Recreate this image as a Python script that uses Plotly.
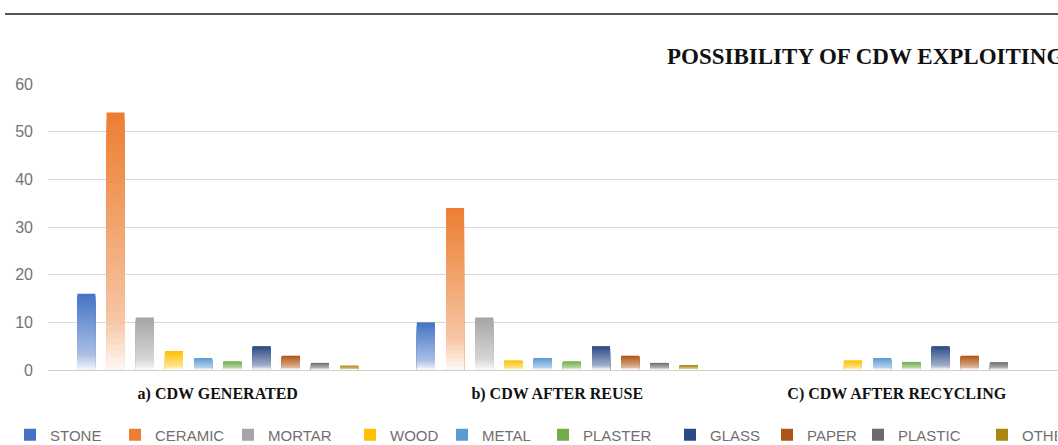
import plotly.graph_objects as go

# ---- data ---------------------------------------------------------------
groups = ["a) CDW GENERATED", "b) CDW AFTER REUSE", "C) CDW AFTER RECYCLING"]
materials = ["STONE", "CERAMIC", "MORTAR", "WOOD", "METAL",
             "PLASTER", "GLASS", "PAPER", "PLASTIC", "OTHER"]

stone = [16, 10, 0]
ceramic = [54, 34, 0]
mortar = [11, 11, 0]
wood = [4, 2, 2]
metal = [2.5, 2.5, 2.5]
plaster = [1.8, 1.8, 1.7]
glass = [5, 5, 5]
paper = [3, 3, 3]
plastic = [1.5, 1.5, 1.6]
other = [0.9, 1.0, 0]

y_ticks = [0, 10, 20, 30, 40, 50, 60]

series = [stone, ceramic, mortar, wood, metal, plaster, glass, paper, plastic, other]

# ---- styling ------------------------------------------------------------
colors = ["#4472C4", "#ED7D31", "#A5A5A5", "#FFC000", "#5B9BD5",
          "#70AD47", "#2B4A84", "#AE5418", "#6A6A6A", "#A98610"]
legend_item_widths = [60, 68, 77, 47, 56, 82, 52, 46, 79, 30]

N_SLICES = 40
SERIF = "Liberation Serif, Times New Roman, serif"
SANS = "Liberation Sans, Arial, sans-serif"


def tint(hex_color, t):
    """Blend a colour towards white by fraction t."""
    h = hex_color.lstrip("#")
    r, g, b = (int(h[i:i + 2], 16) for i in (0, 2, 4))
    r, g, b = (round(c + (255 - c) * t) for c in (r, g, b))
    return f"rgb({r},{g},{b})"


def fade(f):
    """Whitening amount at relative height f (0 = bar foot, 1 = bar top)."""
    if f >= 0.2:
        return 0.55 * (1 - f) / 0.8
    return 0.55 + 0.4 * (0.2 - f) / 0.2


fig = go.Figure()

# Each bar is built from overlapping slices that get paler towards the
# baseline, giving the vertical gradient fill.
for i, (name, vals, col) in enumerate(zip(materials, series, colors)):
    for k in range(N_SLICES):
        frac_top = (N_SLICES - k) / N_SLICES
        f_mid = (N_SLICES - k - 0.5) / N_SLICES
        fill = col if k == 0 else tint(col, fade(f_mid))
        fig.add_trace(go.Bar(
            x=groups,
            y=[v * frac_top for v in vals],
            name=name,
            offsetgroup=str(i),
            legendgroup=name,
            showlegend=(k == 0),
            legendwidth=legend_item_widths[i],
            marker=dict(color=fill, line=dict(width=0)),
            hoverinfo="skip",
        ))

PLOT_L, PLOT_R, PLOT_T, PLOT_B = 48, 1058, 84, 370
W, H = 1058, 445


def px_x(x):
    return (x - PLOT_L) / (PLOT_R - PLOT_L)


def px_y(y):
    return (PLOT_B - y) / (PLOT_B - PLOT_T)


fig.update_layout(
    width=W, height=H, autosize=False,
    margin=dict(l=PLOT_L, r=W - PLOT_R, t=PLOT_T, b=H - PLOT_B, pad=0,
                autoexpand=False),
    paper_bgcolor="white", plot_bgcolor="white",
    barmode="group", bargap=0.14, bargroupgap=0.384,
    showlegend=True,
    legend=dict(
        orientation="h",
        x=px_x(10), xanchor="left",
        y=px_y(435), yanchor="middle",
        font=dict(family=SANS, size=15, color="#6f6f6f"),
        bgcolor="rgba(0,0,0,0)",
        itemclick=False, itemdoubleclick=False,
    ),
    xaxis=dict(
        type="category",
        range=[-0.5, -0.5 + (PLOT_R - PLOT_L) / 339.5],
        showgrid=False, zeroline=False, showline=False,
        ticks="", ticklabelstandoff=12,
        tickfont=dict(family=SERIF, size=16, color="#111111", weight="bold"),
    ),
    yaxis=dict(
        range=[0, 60],
        tickvals=y_ticks,
        showgrid=True, gridcolor="#d9d9d9", gridwidth=1,
        zeroline=True, zerolinecolor="#d0d0d0", zerolinewidth=1,
        showline=False, ticks="",
        ticklabelstandoff=14,
        tickfont=dict(family=SANS, size=16, color="#737373"),
    ),
    annotations=[dict(
        text="<b>POSSIBILITY OF CDW EXPLOITING</b>",
        xref="paper", yref="paper",
        x=px_x(665), y=px_y(56),
        xanchor="left", yanchor="middle",
        showarrow=False,
        font=dict(family=SERIF, size=23, color="#111111"),
    )],
    shapes=[dict(
        type="line", xref="paper", yref="paper",
        x0=px_x(5), x1=px_x(1070), y0=px_y(14), y1=px_y(14),
        line=dict(color="#555555", width=2),
    )],
)

fig.write_html("out.html", config={"displayModeBar": False})
